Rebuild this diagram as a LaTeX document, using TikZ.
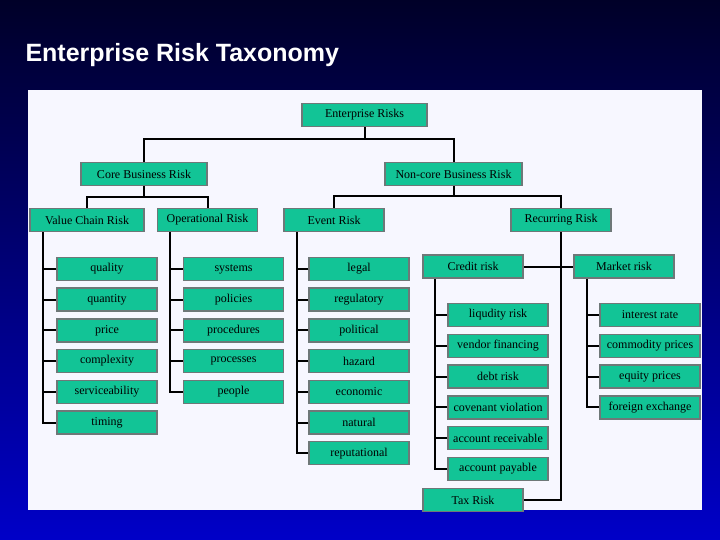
\documentclass[tikz,border=0pt]{standalone}
\usepackage{fontspec}
\setmainfont{Liberation Serif}
\newfontfamily\titlefont{Liberation Sans}
\definecolor{teal1}{RGB}{18,196,150}
\definecolor{edge1}{RGB}{110,120,120}
\begin{document}
\begin{tikzpicture}[x=1pt,y=-1pt,
  bx/.style={draw=edge1,line width=1.5pt,fill=teal1,minimum height=23pt,inner sep=0pt,font=\fontsize{12}{12}\selectfont,text=black},
  w100/.style={bx,minimum width=100pt},
  ln/.style={line width=2pt,black}]
\shade[top color={rgb,255:red,0;green,0;blue,40},bottom color={rgb,255:red,0;green,0;blue,200}] (0,0) rectangle (720,540);
\useasboundingbox (0,0) rectangle (720,540);
\fill[white!97!blue] (28,90) rectangle (702,510);
\node[anchor=west,text=white,font=\titlefont\bfseries\fontsize{25}{25}\selectfont] (title) at (22,55) {Enterprise Risk Taxonomy};
% level 0-2
\node[bx,minimum width=125pt] (er) at (364.5,115) {Enterprise Risks};
\node[bx,minimum width=126pt] (core) at (144,174) {Core Business Risk};
\node[bx,minimum width=137pt] (nc) at (453.5,174) {Non-core Business Risk};
\node[bx,minimum width=114pt] (vc) at (87,220) {Value Chain Risk};
\node[w100] (op) at (207.5,220) {Operational Risk};
\node[w100] (ev) at (334,220) {Event Risk};
\node[w100] (rc) at (561,220) {Recurring Risk};
% leaves
\foreach \t [count=\i] in {quality,quantity,price,complexity,serviceability,timing}
  \node[w100] (v\i) at (107,{269+30.7*(\i-1)}) {\t};
\foreach \t [count=\i] in {systems,policies,procedures,processes,people}
  \node[w100] (o\i) at (233.5,{269+30.7*(\i-1)}) {\t};
\foreach \t [count=\i] in {legal,regulatory,political,hazard,economic,natural,reputational}
  \node[w100] (e\i) at (359,{269+30.7*(\i-1)}) {\t};
\node[w100] (cr) at (473,266.5) {Credit risk};
\node[w100] (mk) at (624,266.5) {Market risk};
\foreach \t [count=\i] in {liqudity risk,vendor financing,debt risk,covenant violation,account receivable,account payable}
  \node[w100] (c\i) at (498,{315+30.8*(\i-1)}) {\t};
\foreach \t [count=\i] in {interest rate,commodity prices,equity prices,foreign exchange}
  \node[w100] (m\i) at (650,{315+30.8*(\i-1)}) {\t};
\node[w100] (tax) at (473,500) {Tax Risk};
% connectors
\draw[ln] (er.south) -- ++(0,12) -| (core.north);
\draw[ln] (er.south) ++(0,12) -| (nc.north);
\draw[ln] (core.south) -- ++(0,11) -| (vc.north);
\draw[ln] (core.south) ++(0,11) -| (op.north);
\draw[ln] (nc.south) -- ++(0,10) -| (ev.north);
\draw[ln] (nc.south) ++(0,10) -| (rc.north);
\draw[ln] (vc.south -| 43,0) |- (v6.west);
\foreach \i in {1,...,5} \draw[ln] (v\i.west) -- (v\i.west -| 43,0);
\draw[ln] (op.south -| 170,0) |- (o5.west);
\foreach \i in {1,...,4} \draw[ln] (o\i.west) -- (o\i.west -| 170,0);
\draw[ln] (ev.south -| 297,0) |- (e7.west);
\foreach \i in {1,...,6} \draw[ln] (e\i.west) -- (e\i.west -| 297,0);
\draw[ln] (rc.south) |- (tax.east);
\draw[ln] (cr.east) -- (mk.west);
\draw[ln] (cr.south -| 435,0) |- (c6.west);
\foreach \i in {1,...,5} \draw[ln] (c\i.west) -- (c\i.west -| 435,0);
\draw[ln] (mk.south -| 587,0) |- (m4.west);
\foreach \i in {1,...,3} \draw[ln] (m\i.west) -- (m\i.west -| 587,0);
\end{tikzpicture}
\end{document}
